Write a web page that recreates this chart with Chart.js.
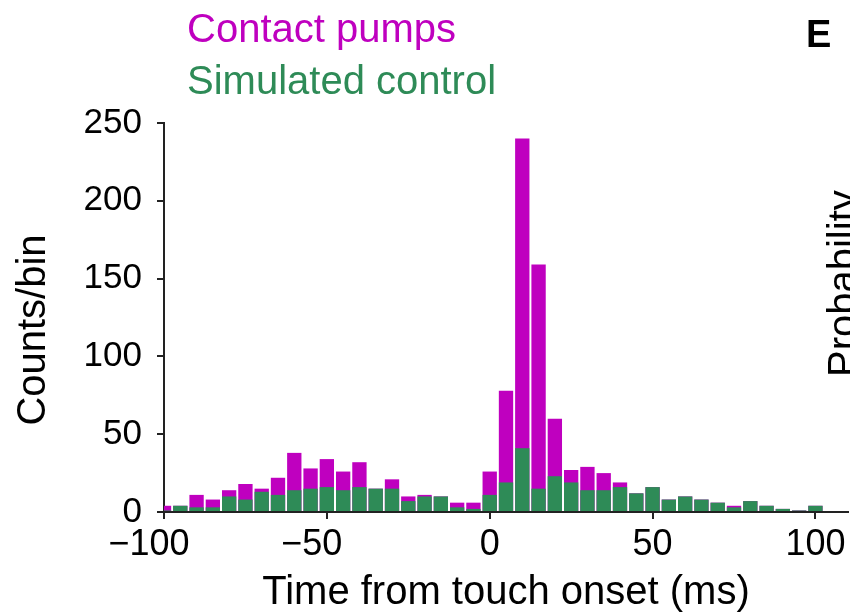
<!DOCTYPE html>
<html>
<head>
<meta charset="utf-8">
<script src="https://cdn.jsdelivr.net/npm/chart.js@4"></script>
<style>
  body { margin: 0; background: #fff; }
</style>
</head>
<body>
<canvas id="hist" width="850" height="613"></canvas>
<script>
// bin centres (ms)
const bins = [-100, -95, -90, -85, -80, -75, -70, -65, -60, -55, -50, -45, -40, -35, -30, -25, -20, -15, -10, -5,
              0, 5, 10, 15, 20, 25, 30, 35, 40, 45, 50, 55, 60, 65, 70, 75, 80, 85, 90, 95, 100];
const contactPumps = [4, 4, 11, 8, 14, 18, 15, 22, 38, 28, 34, 26, 32, 15, 21, 10, 11, 10, 6, 6,
                      26, 78, 240, 159, 60, 27, 29, 25, 19, 12, 16, 8, 10, 8, 6, 4, 7, 4, 2, 1, 4];
const simControl = [1, 4, 3, 3, 10, 8, 13, 11, 14, 15, 16, 14, 16, 15, 15, 7, 10, 10, 3, 2,
                    11, 19, 41, 15, 23, 19, 14, 14, 16, 12, 16, 8, 10, 8, 6, 3, 7, 4, 2, 1, 4];
const seriesNames = ["Contact pumps", "Simulated control"];
const seriesColors = ["#bf00bf", "#2e8b57"];
const xTicks = [-100, -50, 0, 50, 100];
const yTicks = [0, 50, 100, 150, 200, 250];

const FONT = '"Liberation Sans", Arial, sans-serif';

function pts(vals) {
  return bins.map((b, i) => ({x: b, y: vals[i]}));
}

// extra labels: legend text, panel letter, neighbour panel's axis label, y title
const textPlugin = {
  id: 'extraText',
  afterDraw(chart) {
    const ctx = chart.ctx;
    ctx.save();
    ctx.textBaseline = 'alphabetic';
    ctx.textAlign = 'left';
    ctx.font = '40px ' + FONT;
    ctx.fillStyle = seriesColors[0];
    ctx.fillText(seriesNames[0], 187, 42);
    ctx.fillStyle = seriesColors[1];
    ctx.fillText(seriesNames[1], 187, 94);

    ctx.fillStyle = '#000';
    ctx.font = 'bold 38px ' + FONT;
    ctx.fillText('E', 806, 47);

    ctx.font = '40px ' + FONT;
    ctx.save();
    ctx.translate(856, 377);
    ctx.rotate(-Math.PI / 2);
    ctx.fillText('Probability', 0, 0);
    ctx.restore();

    ctx.save();
    ctx.translate(45, 330);
    ctx.rotate(-Math.PI / 2);
    ctx.textAlign = 'center';
    ctx.fillText('Counts/bin', 0, 0);
    ctx.restore();
    ctx.restore();
  }
};

new Chart(document.getElementById('hist'), {
  type: 'bar',
  data: {
    datasets: [
      {
        label: seriesNames[1],
        data: pts(simControl),
        backgroundColor: seriesColors[1],
        order: 0
      },
      {
        label: seriesNames[0],
        data: pts(contactPumps),
        backgroundColor: seriesColors[0],
        order: 1
      }
    ]
  },
  options: {
    responsive: false,
    animation: false,
    layout: { padding: { top: 123, right: 2, left: 0, bottom: 0 } },
    datasets: {
      bar: { grouped: false, categoryPercentage: 1, barPercentage: 0.88, clip: 0, borderWidth: 0 }
    },
    plugins: {
      legend: { display: false },
      tooltip: { enabled: false }
    },
    scales: {
      x: {
        type: 'linear',
        min: -100,
        max: 110,
        offset: false,
        afterBuildTicks: s => { s.ticks = xTicks.map(v => ({value: v})); },
        afterFit: s => { s.height = 101; },
        ticks: {
          font: { family: FONT, size: 36 },
          color: '#000',
          padding: 4,
          maxRotation: 0,
          autoSkip: false,
          // negative labels sit a little left of their tick in the original
          callback: v => v < 0 ? '\u2212' + Math.abs(v) + '   ' : String(v)
        },
        grid: { offset: false, drawOnChartArea: false, drawTicks: true, tickLength: 7, color: '#222', lineWidth: 2 },
        border: { display: true, color: '#222', width: 2 },
        title: {
          display: true,
          text: 'Time from touch onset (ms)',
          color: '#000',
          font: { family: FONT, size: 40, lineHeight: 1 },
          padding: { top: 0, bottom: 0 }
        }
      },
      y: {
        min: 0,
        max: 250,
        afterBuildTicks: s => { s.ticks = yTicks.map(v => ({value: v})); },
        afterFit: s => { s.width = 164; },
        ticks: {
          font: { family: FONT, size: 35 },
          color: '#000',
          padding: 15
        },
        grid: { offset: false, drawOnChartArea: false, drawTicks: true, tickLength: 7, color: '#222', lineWidth: 2 },
        border: { display: true, color: '#222', width: 2 }
      }
    }
  },
  plugins: [textPlugin]
});
</script>
</body>
</html>
